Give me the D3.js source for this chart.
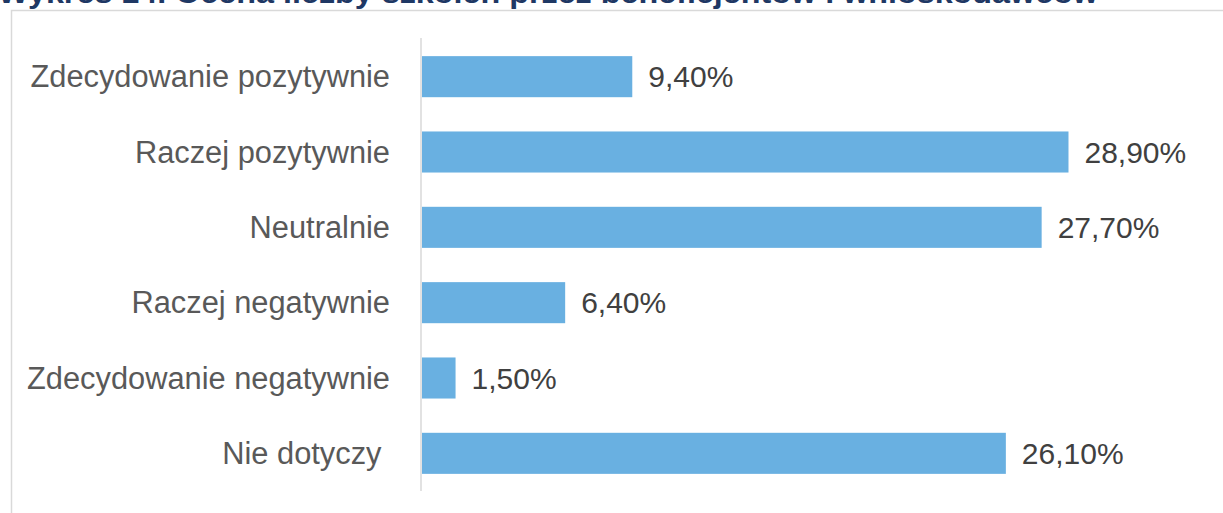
<!DOCTYPE html>
<html>
<head>
<meta charset="utf-8">
<script src="https://cdn.jsdelivr.net/npm/d3@7"></script>
<style>
  body { margin: 0; background: #fff; }
  svg { display: block; }
</style>
</head>
<body>
<div id="chart"></div>
<script>
const categories = ["Zdecydowanie pozytywnie", "Raczej pozytywnie", "Neutralnie", "Raczej negatywnie", "Zdecydowanie negatywnie", "Nie dotyczy "]
const values = [9.4, 28.9, 27.7, 6.4, 1.5, 26.1]
const valueLabels = ["9,40%", "28,90%", "27,70%", "6,40%", "1,50%", "26,10%"]
const title = "Wykres 14. Ocena liczby szkoleń przez beneficjentów i wnioskodawców"

const width = 1223
const height = 513

const svg = d3.select("#chart").append("svg")
    .attr("width", width)
    .attr("height", height)

// title, mostly cut off at the top
svg.append("text")
    .attr("x", -2)
    .attr("y", 3)
    .attr("font-family", "Liberation Sans, Arial, sans-serif")
    .attr("font-weight", "bold")
    .attr("font-size", 30)
    .attr("fill", "#1f3864")
    .attr("textLength", 1100)
    .attr("lengthAdjust", "spacingAndGlyphs")
    .text(title)

// chart frame
svg.append("path")
    .attr("d", `M11.5,${height} V10.5 H${width}`)
    .attr("fill", "none")
    .attr("stroke", "#d9d9d9")
    .attr("stroke-width", 1.5)

const margin = { top: 39, left: 422, bottom: 22, right: 10 }

const x = d3.scaleLinear()
    .domain([0, 10])
    .range([margin.left, margin.left + 223.7])

const y = d3.scaleBand()
    .domain(categories)
    .range([margin.top, height - margin.bottom])
    .paddingInner(0.455)
    .paddingOuter(0.2275)

const g = svg.append("g")

g.selectAll("rect")
    .data(values)
    .join("rect")
    .attr("x", x(0))
    .attr("y", (d, i) => y(categories[i]))
    .attr("width", d => x(d) - x(0))
    .attr("height", y.bandwidth())
    .attr("fill", "#69b0e1")

// vertical axis line
svg.append("line")
    .attr("x1", margin.left - 1)
    .attr("x2", margin.left - 1)
    .attr("y1", margin.top - 1)
    .attr("y2", height - margin.bottom)
    .attr("stroke", "#d9d9d9")
    .attr("stroke-width", 1.5)

g.selectAll(".cat")
    .data(categories)
    .join("text")
    .attr("class", "cat")
    .attr("x", 390)
    .attr("y", d => y(d) + y.bandwidth() / 2)
    .attr("dy", "0.35em")
    .attr("text-anchor", "end")
    .attr("font-family", "Liberation Sans, Arial, sans-serif")
    .attr("font-size", 30.8)
    .attr("fill", "#595959")
    .style("white-space", "pre")
    .text(d => d)

g.selectAll(".val")
    .data(values)
    .join("text")
    .attr("class", "val")
    .attr("x", d => x(d) + 16)
    .attr("y", (d, i) => y(categories[i]) + y.bandwidth() / 2)
    .attr("dy", "0.35em")
    .attr("font-family", "Liberation Sans, Arial, sans-serif")
    .attr("font-size", 30)
    .attr("fill", "#404040")
    .text((d, i) => valueLabels[i])
</script>
</body>
</html>
